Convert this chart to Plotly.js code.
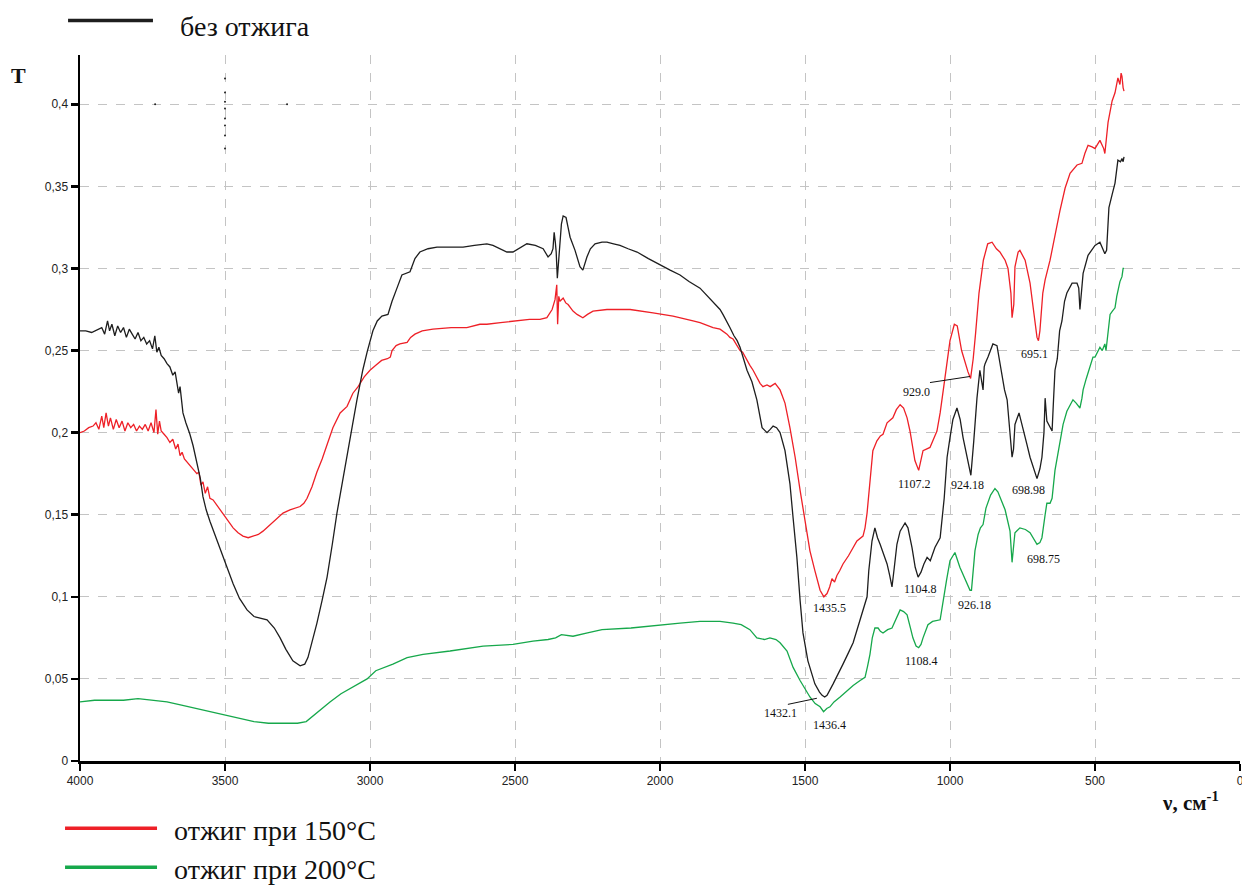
<!DOCTYPE html>
<html>
<head>
<meta charset="utf-8">
<script src="https://cdn.plot.ly/plotly-3.0.1.min.js"></script>
<style>html,body{margin:0;padding:0;background:#fff}#chart{width:1242px;height:887px}</style>
</head>
<body>
<div id="chart"></div>
<script>
// ---- series names ----
const seriesNames = ["без отжига", "отжиг при 150°C", "отжиг при 200°C"];

// ---- без отжига (black) ----
const blackX = [4000,3980,3960,3940,3925,3915,3905,3898,3890,3880,3870,3860,3850,3840,3830,3820,3810,3800,3790,3780,3770,3760,3750,3742,3735,3728,3720,3710,3700,3690,3680,3672,3665,3660,3655,3645,3635,3621,3610,3597,3585,3576,3565,3552,3535,3517,3495,3472,3450,3424,3400,3379,3355,3330,3310,3290,3266,3241,3225,3214,3200,3183,3165,3148,3130,3114,3095,3079,3060,3045,3025,3010,2990,2975,2959,2938,2924,2907,2890,2862,2845,2828,2800,2769,2720,2679,2640,2597,2576,2550,2528,2507,2480,2459,2430,2403,2386,2375,2369,2365,2361,2358,2354,2350,2345,2340,2334,2324,2317,2310,2293,2276,2266,2252,2240,2224,2200,2183,2160,2138,2110,2079,2040,2000,1965,1931,1900,1862,1840,1817,1793,1783,1770,1759,1745,1734,1724,1710,1700,1683,1666,1648,1631,1620,1610,1598,1586,1569,1552,1541,1528,1517,1507,1490,1466,1450,1441,1432,1424,1403,1385,1369,1350,1334,1310,1293,1286,1280,1269,1259,1250,1241,1230,1217,1208,1200,1192,1183,1172,1155,1145,1131,1120,1110,1100,1090,1079,1068,1052,1034,1020,1010,1000,990,976,965,955,940,928,918,907,897,890,886,882,879,869,860,852,838,830,821,812,803,795,786,781,776,762,748,735,724,710,700,690,683,676,672,666,655,648,643,638,630,622,614,605,597,579,562,556,552,548,541,524,510,500,483,472,466,460,452,441,431,421,412,407,403,400];
const blackY = [0.262,0.262,0.261,0.263,0.264,0.260,0.268,0.262,0.266,0.259,0.265,0.261,0.264,0.258,0.263,0.260,0.257,0.261,0.256,0.258,0.254,0.256,0.251,0.259,0.249,0.252,0.247,0.245,0.242,0.240,0.235,0.237,0.229,0.224,0.228,0.212,0.206,0.199,0.192,0.181,0.172,0.161,0.153,0.146,0.138,0.130,0.119,0.108,0.099,0.092,0.088,0.087,0.086,0.081,0.075,0.068,0.061,0.058,0.059,0.063,0.072,0.084,0.098,0.112,0.132,0.151,0.170,0.187,0.205,0.220,0.238,0.249,0.262,0.268,0.271,0.272,0.280,0.288,0.296,0.298,0.306,0.310,0.312,0.313,0.313,0.313,0.314,0.315,0.314,0.312,0.310,0.310,0.313,0.315,0.314,0.312,0.307,0.309,0.312,0.322,0.316,0.310,0.294,0.305,0.318,0.327,0.332,0.331,0.325,0.319,0.311,0.301,0.299,0.307,0.312,0.315,0.316,0.316,0.315,0.314,0.312,0.310,0.306,0.302,0.299,0.296,0.292,0.288,0.284,0.280,0.275,0.272,0.268,0.264,0.259,0.256,0.252,0.244,0.238,0.231,0.220,0.203,0.200,0.202,0.204,0.203,0.200,0.189,0.169,0.148,0.124,0.098,0.078,0.061,0.047,0.042,0.040,0.039,0.040,0.047,0.053,0.059,0.066,0.072,0.086,0.096,0.100,0.116,0.134,0.142,0.136,0.132,0.127,0.120,0.113,0.106,0.118,0.132,0.140,0.145,0.142,0.130,0.118,0.112,0.115,0.120,0.124,0.122,0.130,0.136,0.160,0.185,0.197,0.208,0.215,0.208,0.197,0.183,0.174,0.195,0.221,0.238,0.230,0.226,0.240,0.242,0.246,0.250,0.254,0.253,0.245,0.234,0.226,0.220,0.205,0.185,0.190,0.205,0.212,0.203,0.193,0.185,0.177,0.172,0.178,0.185,0.200,0.221,0.207,0.203,0.201,0.220,0.238,0.245,0.262,0.268,0.280,0.285,0.291,0.291,0.288,0.275,0.282,0.297,0.308,0.312,0.314,0.316,0.312,0.309,0.311,0.337,0.345,0.352,0.366,0.365,0.367,0.365,0.368];

// ---- отжиг при 150°C (red) ----
const redX = [4000,3985,3970,3955,3945,3935,3925,3918,3910,3902,3895,3885,3875,3865,3855,3845,3835,3825,3815,3805,3795,3785,3775,3765,3755,3745,3738,3732,3726,3720,3710,3700,3690,3680,3670,3662,3655,3648,3640,3630,3621,3610,3597,3590,3583,3576,3568,3560,3552,3541,3525,3507,3490,3472,3455,3438,3420,3403,3385,3369,3345,3321,3300,3276,3258,3241,3228,3217,3200,3183,3165,3148,3128,3103,3079,3059,3041,3020,3000,2980,2960,2940,2930,2924,2910,2897,2880,2872,2860,2845,2820,2783,2720,2666,2621,2597,2550,2507,2450,2414,2390,2372,2362,2356,2353,2349,2345,2334,2325,2317,2300,2286,2266,2250,2231,2183,2103,2024,1955,1886,1862,1817,1793,1769,1759,1748,1734,1724,1715,1700,1690,1679,1667,1655,1645,1631,1620,1603,1586,1569,1552,1534,1517,1500,1483,1466,1448,1435,1424,1415,1407,1398,1390,1380,1369,1350,1334,1321,1300,1293,1286,1276,1266,1252,1240,1231,1217,1197,1185,1172,1160,1148,1138,1121,1108,1093,1069,1045,1034,1020,1010,1000,985,975,960,948,938,929,920,912,900,885,870,855,840,828,810,800,790,786,780,776,765,759,741,724,712,700,695,690,680,672,655,638,621,603,586,562,545,535,524,510,500,483,470,466,459,455,441,431,421,414,410,407,403,400];
const redY = [0.200,0.201,0.203,0.204,0.206,0.202,0.210,0.203,0.212,0.204,0.209,0.202,0.208,0.203,0.207,0.201,0.206,0.203,0.205,0.201,0.204,0.202,0.205,0.201,0.206,0.200,0.214,0.199,0.207,0.201,0.199,0.197,0.194,0.196,0.190,0.193,0.186,0.188,0.184,0.182,0.180,0.178,0.175,0.176,0.168,0.170,0.163,0.167,0.160,0.159,0.155,0.151,0.146,0.142,0.139,0.137,0.136,0.137,0.138,0.140,0.144,0.148,0.151,0.153,0.154,0.155,0.157,0.160,0.167,0.176,0.184,0.193,0.203,0.212,0.216,0.224,0.228,0.234,0.238,0.241,0.244,0.245,0.246,0.250,0.253,0.254,0.255,0.255,0.258,0.260,0.262,0.263,0.264,0.264,0.266,0.266,0.267,0.268,0.269,0.269,0.270,0.275,0.281,0.290,0.266,0.283,0.280,0.282,0.279,0.278,0.274,0.272,0.270,0.272,0.274,0.275,0.275,0.273,0.271,0.268,0.267,0.264,0.263,0.260,0.258,0.257,0.253,0.250,0.249,0.244,0.241,0.238,0.234,0.230,0.228,0.229,0.228,0.230,0.226,0.218,0.203,0.185,0.165,0.145,0.128,0.116,0.104,0.100,0.102,0.106,0.111,0.109,0.113,0.116,0.120,0.125,0.130,0.134,0.137,0.142,0.151,0.169,0.189,0.195,0.198,0.199,0.206,0.209,0.214,0.217,0.215,0.209,0.201,0.183,0.177,0.189,0.191,0.201,0.212,0.230,0.244,0.256,0.266,0.265,0.250,0.242,0.237,0.233,0.245,0.260,0.285,0.305,0.315,0.316,0.312,0.310,0.305,0.300,0.285,0.270,0.278,0.301,0.310,0.311,0.305,0.291,0.275,0.258,0.256,0.262,0.285,0.293,0.305,0.321,0.335,0.349,0.358,0.363,0.364,0.370,0.375,0.374,0.373,0.378,0.373,0.370,0.380,0.389,0.402,0.407,0.416,0.412,0.419,0.417,0.410,0.408];

// ---- отжиг при 200°C (green) ----
const greenX = [4000,3950,3900,3850,3800,3750,3700,3650,3600,3550,3500,3450,3400,3350,3300,3250,3220,3200,3170,3138,3100,3050,3010,2980,2950,2921,2872,2817,2724,2610,2507,2438,2386,2360,2340,2300,2250,2200,2100,2000,1931,1862,1793,1748,1720,1690,1666,1640,1621,1600,1586,1562,1541,1517,1500,1483,1465,1448,1436,1425,1414,1400,1379,1355,1334,1310,1293,1284,1276,1268,1259,1248,1240,1231,1215,1200,1185,1172,1160,1148,1135,1128,1117,1108,1100,1093,1076,1060,1034,1024,1012,1000,983,966,950,941,931,926,914,903,895,886,876,860,845,835,828,810,793,786,780,776,759,740,724,710,700,690,683,672,666,655,648,638,621,610,597,585,576,565,552,545,541,530,517,507,500,490,483,475,466,462,459,455,448,440,431,425,421,414,407,403,400];
const greenY = [0.036,0.037,0.037,0.037,0.038,0.037,0.036,0.034,0.032,0.030,0.028,0.026,0.024,0.023,0.023,0.023,0.024,0.027,0.031,0.036,0.041,0.046,0.050,0.055,0.057,0.059,0.063,0.065,0.067,0.070,0.071,0.073,0.074,0.075,0.077,0.076,0.078,0.080,0.081,0.083,0.084,0.085,0.085,0.084,0.083,0.080,0.075,0.074,0.075,0.074,0.072,0.067,0.057,0.049,0.044,0.039,0.035,0.033,0.030,0.032,0.033,0.036,0.039,0.043,0.046,0.049,0.051,0.058,0.065,0.075,0.081,0.081,0.079,0.078,0.080,0.081,0.087,0.092,0.091,0.089,0.080,0.075,0.070,0.069,0.071,0.075,0.083,0.085,0.086,0.098,0.110,0.122,0.127,0.118,0.112,0.108,0.104,0.104,0.128,0.138,0.142,0.144,0.154,0.162,0.166,0.164,0.161,0.153,0.140,0.121,0.132,0.139,0.142,0.141,0.139,0.135,0.132,0.133,0.136,0.150,0.157,0.157,0.160,0.177,0.195,0.205,0.213,0.217,0.220,0.218,0.215,0.221,0.226,0.233,0.240,0.246,0.246,0.250,0.252,0.250,0.254,0.250,0.255,0.262,0.272,0.274,0.276,0.283,0.287,0.292,0.295,0.300,0.300];

// ---- instrument artefact dots (black) ----
const dotsX = [3500,3500,3500,3500,3500,3500,3500,3500,3741,3286];
const dotsY = [0.4157,0.4071,0.4016,0.3974,0.3913,0.3870,0.3810,0.3731,0.400,0.400];

// ---- peak labels ----
const peakLabels = ["1435.5","1104.8","926.18","1108.4","1432.1","1436.4","929.0","695.1","1107.2","924.18","698.98","698.75"];

// ---- axes ticks ----
const xTickVals = [4000,3500,3000,2500,2000,1500,1000,500,0];
const xTickText = ["4000","3500","3000","2500","2000","1500","1000","500","0"];
const yTickVals = [0,0.05,0.1,0.15,0.2,0.25,0.3,0.35,0.4];
const yTickText = ["0","0,05","0,1","0,15","0,2","0,25","0,3","0,35","0,4"];

const colors = ["#1e1e1e","#ee2027","#16a84b"];

const traces = [
  {x: redX, y: redY, name: seriesNames[1], type: "scatter", mode: "lines", line: {color: colors[1], width: 1.3}},
  {x: blackX, y: blackY, name: seriesNames[0], type: "scatter", mode: "lines", line: {color: colors[0], width: 1.3}},
  {x: greenX, y: greenY, name: seriesNames[2], type: "scatter", mode: "lines", line: {color: colors[2], width: 1.3}},
  {x: dotsX, y: dotsY, type: "scatter", mode: "markers", marker: {color: "#222", size: 2}, showlegend: false, hoverinfo: "skip"}
];

const serif = "Liberation Serif, Times New Roman, serif";
const lblFont = {family: serif, size: 12, color: "#111"};

// label positions (data coords)
const lblPos = [[1414,0.093],[1103,0.105],[914,0.095],[1097,0.061],[1586,0.029],[1414,0.022],[1114,0.225],[707,0.248],[1121,0.169],[938,0.168],[731,0.165],[679,0.123]];
const annotations = peakLabels.map((t, i) => ({
  x: lblPos[i][0], y: lblPos[i][1], xref: "x", yref: "y", text: t, showarrow: false,
  font: lblFont, xanchor: "center", yanchor: "middle"
}));

// legend texts and axis titles
const legFont = {family: serif, size: 28, color: "#111"};
annotations.push(
  {xref: "paper", yref: "paper", x: 0.0845, y: 1.040, text: seriesNames[0], showarrow: false, xanchor: "left", yanchor: "middle", font: legFont},
  {xref: "paper", yref: "paper", x: 0.0793, y: -0.099, text: seriesNames[1], showarrow: false, xanchor: "left", yanchor: "middle", font: legFont},
  {xref: "paper", yref: "paper", x: 0.0793, y: -0.1535, text: seriesNames[2], showarrow: false, xanchor: "left", yanchor: "middle", font: legFont},
  {xref: "paper", yref: "paper", x: -0.0534, y: 0.971, text: "<b>T</b>", showarrow: false, xanchor: "center", yanchor: "middle", font: {family: serif, size: 22, color: "#111"}},
  {xref: "paper", yref: "paper", x: 0.957, y: -0.058, text: "<b>ν, см<sup>-1</sup></b>", showarrow: false, xanchor: "center", yanchor: "middle", font: {family: serif, size: 21, color: "#111"}}
);

const shapes = [
  {type: "line", xref: "paper", yref: "paper", x0: -0.0103, x1: 0.0629, y0: 1.049, y1: 1.049, line: {color: colors[0], width: 3.5}},
  {type: "line", xref: "paper", yref: "paper", x0: -0.0129, x1: 0.0664, y0: -0.0953, y1: -0.0953, line: {color: colors[1], width: 3.5}},
  {type: "line", xref: "paper", yref: "paper", x0: -0.0129, x1: 0.0664, y0: -0.1506, y1: -0.1506, line: {color: colors[2], width: 3.5}},
  // leader lines
  {type: "line", xref: "x", yref: "y", x0: 1559, y0: 0.0345, x1: 1459, y1: 0.0382, line: {color: "#111", width: 1}},
  {type: "line", xref: "x", yref: "y", x0: 1069, y0: 0.2305, x1: 931, y1: 0.2342, line: {color: "#111", width: 1}}
];

const axisCommon = {
  showline: true, linecolor: "#000", linewidth: 2.5,
  ticks: "outside", ticklen: 7, tickwidth: 2.5, tickcolor: "#000",
  showgrid: true, gridcolor: "#c4c4c4", gridwidth: 1, griddash: "dash",
  zeroline: false, layer: "above traces",
  tickfont: {family: "Liberation Sans, Arial, sans-serif", size: 12, color: "#222"}
};

const layout = {
  width: 1242, height: 887,
  margin: {l: 80, r: 2, t: 55, b: 126},
  paper_bgcolor: "#fff", plot_bgcolor: "#fff",
  showlegend: false,
  xaxis: Object.assign({}, axisCommon, {range: [4000, 0], tickmode: "array", tickvals: xTickVals, ticktext: xTickText, ticklabeloverflow: "allow"}),
  yaxis: Object.assign({}, axisCommon, {range: [0, 0.43], tickmode: "array", tickvals: yTickVals, ticktext: yTickText}),
  annotations: annotations,
  shapes: shapes
};

Plotly.newPlot("chart", traces, layout, {staticPlot: true, displayModeBar: false});
</script>
</body>
</html>
